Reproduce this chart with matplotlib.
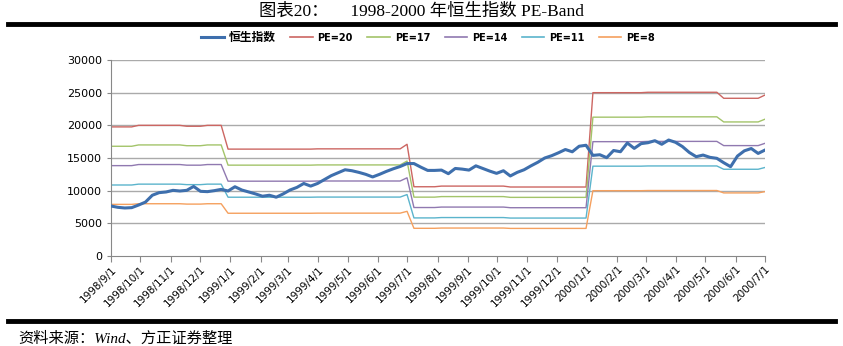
import numpy as np
import pandas as pd
import matplotlib
matplotlib.use("Agg")
import matplotlib.pyplot as plt
from matplotlib.lines import Line2D

plt.rcParams['font.family'] = ['DejaVu Sans', 'Noto Sans CJK SC']

# weekly points, 1998/9/1 .. 2000/7/1
dates = pd.date_range('1998-09-01', '2000-07-01', periods=96)

hsi = [7650, 7450, 7350, 7400, 7800, 8250, 9300, 9700, 9800, 10050,
       9950, 10050, 10650, 9900, 9850, 10000, 10200, 9950, 10600, 10100,
       9800, 9500, 9150, 9300, 9000, 9500, 10100, 10500, 11100, 10700,
       11100, 11700, 12300, 12750, 13200, 13050, 12800, 12500, 12100, 12500,
       12950, 13350, 13700, 14150, 14150, 13600, 13100, 13100, 13150, 12600,
       13400, 13300, 13150, 13800, 13400, 13000, 12650, 13050, 12250, 12800,
       13200, 13800, 14350, 15000, 15350, 15800, 16300, 15950, 16800, 16950,
       15400, 15500, 15050, 16150, 15960, 17300, 16470, 17200, 17340, 17650,
       17100, 17750, 17400, 16750, 15850, 15200, 15450, 15100, 14950, 14280,
       13670, 15300, 16100, 16450, 15700, 16220]

eps = [988, 988, 988, 988, 1000, 1000, 1000, 1000, 1000, 1000,
       1000, 993, 993, 993, 1000, 1000, 1000, 818, 818, 818,
       818, 818, 818, 818, 818, 818, 818, 818, 818, 818,
       820, 820, 820, 820, 820, 820, 820, 820, 820, 820,
       820, 820, 820, 855, 530, 530, 530, 530, 535, 535,
       535, 535, 535, 535, 535, 535, 535, 535, 528, 528,
       528, 528, 528, 528, 528, 528, 528, 528, 528, 528,
       1250, 1250, 1250, 1250, 1250, 1250, 1250, 1250, 1253, 1253,
       1253, 1253, 1253, 1253, 1253, 1253, 1253, 1253, 1253, 1207,
       1207, 1207, 1207, 1207, 1207, 1232]

pe_levels = [20, 17, 14, 11, 8]
pe_colors = ['#CC6662', '#A3C46A', '#9079B0', '#5BB4CC', '#F5A05E']

month_ticks = pd.date_range('1998-09-01', '2000-07-01', freq='MS')
tick_labels = [f"{d.year}/{d.month}/{d.day}" for d in month_ticks]

fig = plt.figure(figsize=(8.43, 3.46), dpi=100)
ax = fig.add_axes([0.1317, 0.2601, 0.7758, 0.5665])

for v in range(5000, 30001, 5000):
    ax.axhline(v, color='#AAAAAA', lw=1.0, zorder=1)

eps_arr = np.array(eps)
for pe, c in zip(pe_levels, pe_colors):
    ax.plot(dates, pe * eps_arr, color=c, lw=1.0, zorder=2)
ax.plot(dates, hsi, color='#3E6FAD', lw=2.2, zorder=3)

ax.set_xlim(dates[0], dates[-1])
ax.set_ylim(0, 30000)
ax.set_yticks(range(0, 30001, 5000))
ax.set_xticks(month_ticks)
ax.set_xticklabels(tick_labels, rotation=45, ha='right', va='top',
                   rotation_mode='anchor', fontsize=7.5)
ax.tick_params(axis='y', labelsize=8, length=3, color='#888888')
ax.tick_params(axis='x', length=4, color='#888888', pad=2)
for s in ['top', 'right']:
    ax.spines[s].set_visible(False)
for s in ['left', 'bottom']:
    ax.spines[s].set_color('#888888')

handles = [Line2D([], [], color='#3E6FAD', lw=2.2)]
handles += [Line2D([], [], color=c, lw=1.2) for c in pe_colors]
labels = ['恒生指数'] + [f'PE={p}' for p in pe_levels]
leg = fig.legend(handles, labels, loc='center', bbox_to_anchor=(0.508, 0.893),
                 ncol=6, frameon=False, handlelength=2.3,
                 columnspacing=1.5, handletextpad=0.5,
                 prop={'family': ['DejaVu Sans', 'Noto Sans CJK SC'],
                       'weight': 'bold', 'size': 7})
leg.get_texts()[0].set_fontsize(8.5)

fig.text(0.5, 0.965, '图表20：     1998-2000 年恒生指数 PE-Band',
         ha='center', va='center', fontsize=12.5,
         family=['Liberation Serif', 'Noto Sans CJK SC'])
fig.add_artist(Line2D([0.01, 0.99], [0.93, 0.93], color='black', lw=3.5))
fig.add_artist(Line2D([0.01, 0.99], [0.072, 0.072], color='black', lw=3.5))
fig.text(0.022, 0.022, '资料来源：Wind、方正证券整理', ha='left', va='center',
         fontsize=11, style='italic',
         family=['Liberation Serif', 'Noto Sans CJK SC'])

fig.savefig('out.png', dpi=100)
